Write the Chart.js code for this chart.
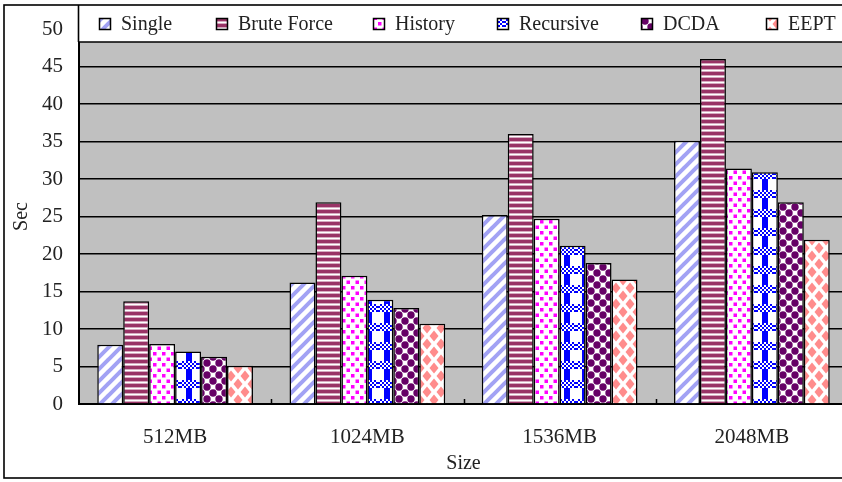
<!DOCTYPE html>
<html>
<head>
<meta charset="utf-8">
<script src="https://cdn.jsdelivr.net/npm/chart.js@4/dist/chart.umd.min.js"></script>
<style>
  html, body { margin: 0; padding: 0; background: #fff; overflow: hidden; }
  #wrap { position: relative; width: 856px; height: 482px; }
</style>
</head>
<body>
<div id="wrap"><canvas id="c" width="856" height="482"></canvas></div>
<script>
// Run time (seconds) per input size
const sizes = ['512MB', '1024MB', '1536MB', '2048MB'];
const seriesNames = ['Single', 'Brute Force', 'History', 'Recursive', 'DCDA', 'EEPT'];
const singleSec     = [7.9, 16.2, 25.2, 35.1];
const bruteForceSec = [13.7, 26.9, 36.0, 46.0];
const historySec    = [8.0, 17.1, 24.7, 31.4];
const recursiveSec  = [7.0, 13.9, 21.1, 30.9];
const dcdaSec       = [6.3, 12.8, 18.8, 26.9];
const eeptSec       = [5.1, 10.7, 16.6, 21.9];
const yTicks = [0, 5, 10, 15, 20, 25, 30, 35, 40, 45, 50];

const SERIF = '"Liberation Serif", "DejaVu Serif", serif';
const canvas = document.getElementById('c');
const ctx = canvas.getContext('2d');

// ---- fill patterns -------------------------------------------------------
function tile(w, h, paint) {
  const c = document.createElement('canvas');
  c.width = w; c.height = h;
  const g = c.getContext('2d');
  g.fillStyle = '#fff';
  g.fillRect(0, 0, w, h);
  paint(g, w, h);
  return ctx.createPattern(c, 'repeat');
}

const fills = [
  // light blue diagonal stripes
  tile(12, 12, (g, w, h) => {
    g.strokeStyle = '#a2a2f4';
    g.lineWidth = 4;
    g.lineCap = 'square';
    for (const o of [-w, 0, w]) {
      g.beginPath(); g.moveTo(o, h); g.lineTo(o + w, 0); g.stroke();
    }
  }),
  // maroon horizontal stripes
  tile(4, 6, (g) => {
    const rows = ['#993366', '#993366', '#993366', '#d6aac0', '#ffffff', '#d6aac0'];
    rows.forEach((c, i) => { g.fillStyle = c; g.fillRect(0, i, 4, 1); });
  }),
  // magenta staggered squares
  tile(9, 11, (g) => {
    g.fillStyle = '#ff00ff';
    g.fillRect(0, 0, 3.5, 3.5);
    g.fillRect(4.5, 5.5, 3.5, 3.5);
  }),
  // blue plaid
  tile(18, 19, (g) => {
    g.fillStyle = '#0000ff';
    g.fillRect(6, 0, 6, 19);
    for (let y = 0; y < 8; y++) {
      for (let x = 0; x < 18; x++) {
        g.fillStyle = ((x >> 1) + (y >> 1)) % 2 ? '#0000ff' : '#ffffff';
        g.fillRect(x, y, 1, 1);
      }
    }
  }),
  // purple dots
  tile(12, 12, (g) => {
    g.fillStyle = '#660066';
    for (const dx of [-12, 0, 12]) for (const dy of [-12, 0, 12]) {
      for (const [cx, cy] of [[3, 3], [9, 9]]) {
        g.beginPath(); g.arc(cx + dx, cy + dy, 3.7, 0, Math.PI * 2); g.fill();
      }
    }
  }),
  // salmon diamonds
  tile(14, 16, (g) => {
    g.fillStyle = '#ff8c8c';
    const diamond = (cx, cy) => {
      g.beginPath();
      g.moveTo(cx, cy - 5.5); g.lineTo(cx + 4.5, cy);
      g.lineTo(cx, cy + 5.5); g.lineTo(cx - 4.5, cy);
      g.closePath(); g.fill();
    };
    diamond(7, 8);
    for (const [cx, cy] of [[0, 0], [14, 0], [0, 16], [14, 16]]) diamond(cx, cy);
  })
];

const seriesData = [singleSec, bruteForceSec, historySec, recursiveSec, dcdaSec, eeptSec];

// ---- chart decorations: plot background, key box, outer frame ------------
const decorations = {
  id: 'decorations',
  beforeDraw(chart) {
    const g = chart.ctx, a = chart.chartArea;
    g.save();
    g.fillStyle = '#fff';
    g.fillRect(0, 0, chart.width, chart.height);
    g.fillStyle = '#c0c0c0';
    g.fillRect(a.left, a.top, a.right - a.left, a.bottom - a.top);
    g.restore();
  },
  afterDraw(chart, args, opts) {
    const g = chart.ctx, a = chart.chartArea;
    const xs = chart.scales.x;
    g.save();
    // small inward tick marks between categories
    g.strokeStyle = '#000';
    g.lineWidth = 1.5;
    const catW = (a.right - a.left) / sizes.length;
    for (let i = 1; i < sizes.length; i++) {
      const x = Math.round(xs.getPixelForValue(i) - catW / 2) + 0.5;
      g.beginPath(); g.moveTo(x, a.bottom); g.lineTo(x, a.bottom - 5); g.stroke();
    }
    // key box across the top
    const top = opts.frameTop, bottom = opts.keyBottom;
    g.fillStyle = '#fff';
    g.fillRect(a.left - 1, top, chart.width - a.left + 1, bottom - top);
    g.lineWidth = 1.6;
    g.beginPath();
    g.moveTo(a.left - 0.5, top); g.lineTo(a.left - 0.5, bottom);
    g.moveTo(a.left - 1, bottom); g.lineTo(chart.width, bottom);
    g.stroke();
    // key entries
    g.font = '20px ' + SERIF;
    g.textBaseline = 'middle';
    g.textAlign = 'left';
    chart.data.datasets.forEach((ds, i) => {
      const x = opts.keyX[i], s = 12, y = 18;
      g.fillStyle = ds.backgroundColor;
      g.fillRect(x, y, s, s);
      g.strokeStyle = '#000';
      g.lineWidth = 1.5;
      g.strokeRect(x + 0.5, y + 0.5, s - 1, s - 1);
      g.fillStyle = '#222';
      g.fillText(ds.label, x + s + 10, 25);
    });
    // outer frame
    g.strokeStyle = '#000';
    g.lineWidth = 1.6;
    g.strokeRect(4, top, chart.width - 8, opts.frameBottom - top);
    g.restore();
  }
};

new Chart(canvas, {
  type: 'bar',
  data: {
    labels: sizes,
    datasets: seriesNames.map((name, i) => ({
      label: name,
      data: seriesData[i],
      backgroundColor: fills[i],
      borderColor: '#000',
      borderWidth: 1.5,
      categoryPercentage: 0.81,
      barPercentage: 1
    }))
  },
  options: {
    responsive: false,
    animation: false,
    events: [],
    layout: { padding: { top: 29, right: 8, bottom: 0, left: 0 } },
    plugins: {
      legend: { display: false },
      tooltip: { enabled: false },
      decorations: {
        frameTop: 5,
        keyBottom: 42,
        frameBottom: 478,
        keyX: [99, 216, 373, 497, 641, 766]
      }
    },
    scales: {
      x: {
        grid: { display: false, drawTicks: false },
        border: { display: true, color: '#000', width: 2 },
        ticks: { color: '#222', font: { family: SERIF, size: 21 }, padding: 21 },
        title: {
          display: true, text: 'Size', color: '#222',
          font: { family: SERIF, size: 20 }, padding: { top: 0, bottom: 6 }
        },
        afterFit(scale) { scale.height = 78; }
      },
      y: {
        min: 0, max: 50,
        afterBuildTicks(scale) { scale.ticks = yTicks.map(v => ({ value: v })); },
        grid: { color: '#000', lineWidth: 1.6, drawTicks: false },
        border: { display: true, color: '#000', width: 2 },
        ticks: { color: '#222', font: { family: SERIF, size: 21 }, padding: 16 },
        title: {
          display: true, text: 'Sec', color: '#222',
          font: { family: SERIF, size: 20 }, padding: { top: 10, bottom: 0 }
        },
        afterFit(scale) { scale.width = 79; }
      }
    }
  },
  plugins: [decorations]
});
</script>
</body>
</html>
